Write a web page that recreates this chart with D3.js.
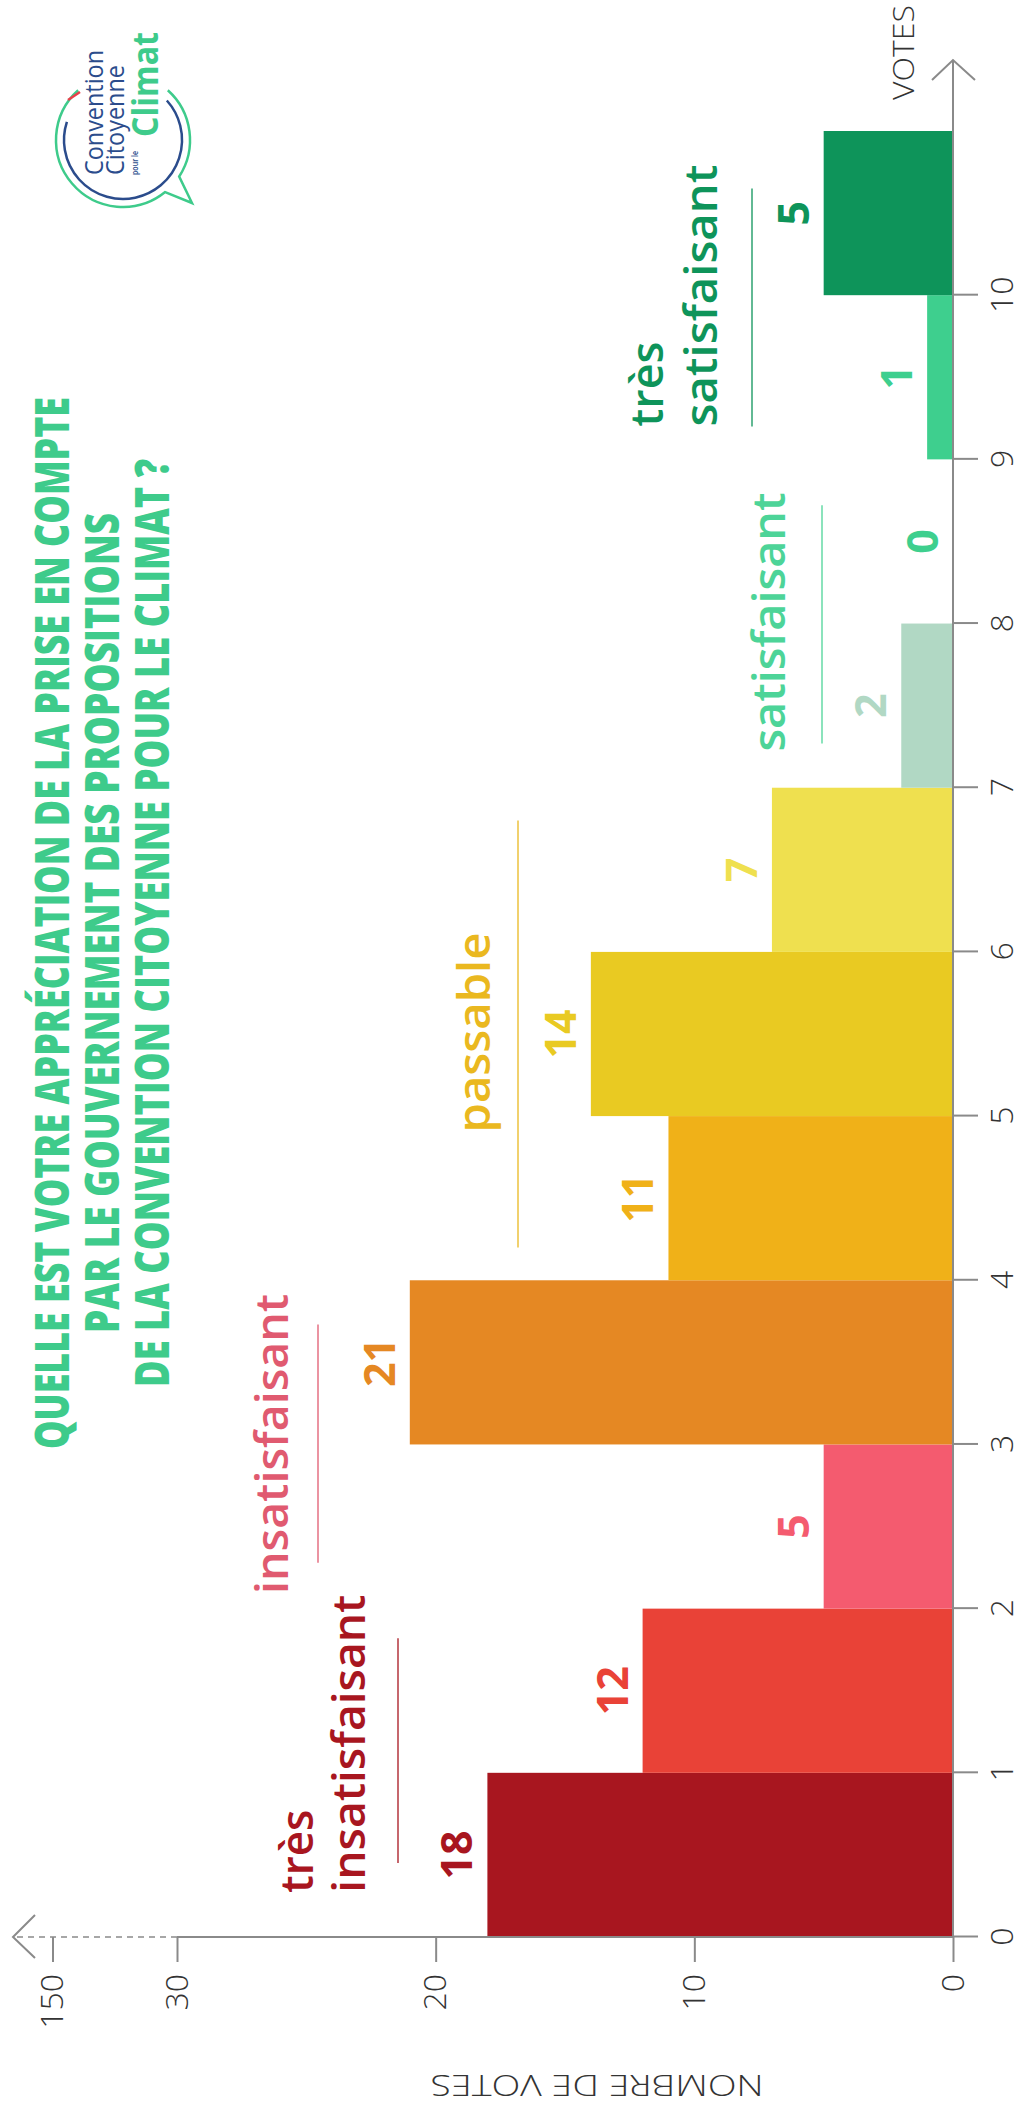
<!DOCTYPE html>
<html>
<head>
<meta charset="utf-8">
<script src="https://cdn.jsdelivr.net/npm/d3@7"></script>
<style>
	body { margin: 0; background: #fff; }
	svg { display: block; }
</style>
</head>
<body>
<div id="chart"></div>
<script>
var scores = [0, 1, 2, 3, 4, 5, 6, 7, 8, 9, 10];
var votes = [18, 12, 5, 21, 11, 14, 7, 2, 0, 1, 5];
var barColors = ["#a8161f", "#e94237", "#f45b6f", "#e58823", "#f0b118", "#e9ca22", "#efe04f", "#b1d8c4", "#3ecf8e", "#3ecf8e", "#0e945a"];
var countTicks = [0, 10, 20, 30];
var breakTick = "150";
var groupNames = [["très", "insatisfaisant"], ["insatisfaisant"], ["passable"], ["satisfaisant"], ["très", "satisfaisant"]];
var groupColors = ["#a8161f", "#e05a70", "#eab820", "#4dd498", "#0e945a"];
var titleLines = [
	"QUELLE EST VOTRE APPRÉCIATION DE LA PRISE EN COMPTE",
	"PAR LE GOUVERNEMENT DES PROPOSITIONS",
	"DE LA CONVENTION CITOYENNE POUR LE CLIMAT ?"
];

var W = 1021, H = 2110;
var green = "#3ecb8b", blue = "#2b4c8c", axisGrey = "#8a8a8a";

// layout of the group labels, in score units along the votes axis
var groupLayout = [
	{ start: 0.27, base: [313, 365], len: [83, 298], line: 398, from: 0.45, to: 1.82 },
	{ start: 2.09, base: [288], len: [300], line: 318, from: 2.28, to: 3.73 },
	{ start: 4.9, base: [490], len: [200], line: 518, from: 4.2, to: 6.8 },
	{ start: 7.22, base: [785], len: [259], line: 822, from: 7.27, to: 8.72 },
	{ start: 9.2, base: [663, 717], len: [85, 262], line: 752, from: 9.2, to: 10.65 }
];

var svg = d3.select("#chart").append("svg")
	.attr("width", W)
	.attr("height", H);

// the chart is laid out landscape, then turned a quarter turn
var g = svg.append("g")
	.attr("transform", "translate(0," + H + ") rotate(-90)");

var x = d3.scaleLinear().domain([0, 11]).range([173, 1979]);
var y = d3.scaleLinear().domain([0, 30]).range([953, 177]);

// bars
g.selectAll("rect.bar").data(votes)
	.enter().append("rect")
	.attr("class", "bar")
	.attr("x", function(d, i) { return x(scores[i]); })
	.attr("width", function(d, i) { return x(scores[i] + 1) - x(scores[i]); })
	.attr("y", function(d) { return y(d); })
	.attr("height", function(d) { return y(0) - y(d); })
	.attr("fill", function(d, i) { return barColors[i]; });

// value labels
g.selectAll("text.val").data(votes)
	.enter().append("text")
	.attr("class", "val")
	.attr("x", function(d, i) { return x(scores[i] + 0.5); })
	.attr("y", function(d) { return y(d) - 15; })
	.attr("text-anchor", "middle")
	.attr("font-family", "'Open Sans', sans-serif")
	.attr("font-weight", 700)
	.attr("font-size", 43)
	.attr("fill", function(d, i) { return barColors[i]; })
	.text(function(d) { return d; });

// votes axis
var xAxis = g.append("g")
	.attr("transform", "translate(0," + y(0) + ")")
	.call(d3.axisBottom(x).tickValues(scores).tickSize(25).tickPadding(12));
xAxis.select(".domain").remove();
xAxis.selectAll("line").attr("stroke", axisGrey).attr("stroke-width", 2);
xAxis.selectAll("text")
	.attr("font-family", "'Open Sans', sans-serif")
	.attr("font-weight", 300)
	.attr("font-size", 32)
	.attr("fill", "#333");

g.append("line")
	.attr("x1", x(0)).attr("x2", 2050)
	.attr("y1", y(0)).attr("y2", y(0))
	.attr("stroke", axisGrey).attr("stroke-width", 2);
g.append("path")
	.attr("d", "M2030," + (y(0) - 21) + "L2050," + y(0) + "L2030," + (y(0) + 22))
	.attr("fill", "none").attr("stroke", axisGrey).attr("stroke-width", 2);
g.append("text")
	.attr("x", 2010).attr("y", 914)
	.attr("font-family", "'Open Sans', sans-serif")
	.attr("font-weight", 300)
	.attr("font-size", 29)
	.attr("textLength", 95)
	.attr("lengthAdjust", "spacingAndGlyphs")
	.attr("fill", "#333")
	.text("VOTES");

// count axis
var yAxis = g.append("g")
	.attr("transform", "translate(" + x(0) + ",0)")
	.call(d3.axisLeft(y).tickValues(countTicks).tickSize(25).tickPadding(12));
yAxis.select(".domain").remove();
yAxis.selectAll("line").attr("stroke", axisGrey).attr("stroke-width", 2);
yAxis.selectAll("text")
	.attr("font-family", "'Open Sans', sans-serif")
	.attr("font-weight", 300)
	.attr("font-size", 32)
	.attr("fill", "#333");

g.append("line")
	.attr("x1", x(0)).attr("x2", x(0))
	.attr("y1", y(0)).attr("y2", y(30))
	.attr("stroke", axisGrey).attr("stroke-width", 2);
g.append("line")
	.attr("x1", x(0)).attr("x2", x(0))
	.attr("y1", y(30)).attr("y2", 13)
	.attr("stroke", axisGrey).attr("stroke-width", 1.5)
	.attr("stroke-dasharray", "6,5");
g.append("path")
	.attr("d", "M" + (x(0) + 22) + ",35L" + x(0) + ",13L" + (x(0) - 21) + ",35")
	.attr("fill", "none").attr("stroke", axisGrey).attr("stroke-width", 2);
g.append("line")
	.attr("x1", x(0)).attr("x2", x(0) - 25)
	.attr("y1", 53).attr("y2", 53)
	.attr("stroke", axisGrey).attr("stroke-width", 2);
g.append("text")
	.attr("x", x(0) - 37).attr("y", 53).attr("dy", "0.32em")
	.attr("text-anchor", "end")
	.attr("font-family", "'Open Sans', sans-serif")
	.attr("font-weight", 300)
	.attr("font-size", 32)
	.attr("fill", "#333")
	.text(breakTick);

g.append("text")
	.attr("transform", "translate(35,597) rotate(-90)")
	.attr("text-anchor", "middle")
	.attr("font-family", "'Open Sans', sans-serif")
	.attr("font-weight", 300)
	.attr("font-size", 30)
	.attr("textLength", 333)
	.attr("lengthAdjust", "spacingAndGlyphs")
	.attr("fill", "#333")
	.text("NOMBRE DE VOTES");

// group labels with their rules
groupNames.forEach(function(lines, gi) {
	var lay = groupLayout[gi];
	lines.forEach(function(t, li) {
		g.append("text")
			.attr("x", x(lay.start)).attr("y", lay.base[li])
			.attr("font-family", "'Open Sans', sans-serif")
			.attr("font-weight", 600)
			.attr("font-size", 45)
			.attr("textLength", lay.len[li])
			.attr("lengthAdjust", "spacingAndGlyphs")
			.attr("fill", groupColors[gi])
			.text(t);
	});
	g.append("line")
		.attr("x1", x(lay.from)).attr("x2", x(lay.to))
		.attr("y1", lay.line).attr("y2", lay.line)
		.attr("stroke", groupColors[gi])
		.attr("stroke-opacity", 0.65)
		.attr("stroke-width", 2);
});

// title
var titleLen = [1052, 820, 928];
var titleBase = [69, 119, 169];
titleLines.forEach(function(t, i) {
	g.append("text")
		.attr("x", 1187).attr("y", titleBase[i])
		.attr("text-anchor", "middle")
		.attr("font-family", "'Open Sans', sans-serif")
		.attr("font-weight", 800)
		.attr("font-size", 48)
		.attr("textLength", titleLen[i])
		.attr("lengthAdjust", "spacingAndGlyphs")
		.attr("fill", green)
		.text(t);
});

// logo
var logo = g.append("g").attr("transform", "translate(1970,123)");
var rad = Math.PI / 180;
var gp = d3.path();
gp.arc(0, 0, 67, (132 - 90) * rad, (213 - 90) * rad);
gp.lineTo(-63, 69);
gp.lineTo(67 * Math.sin(231 * rad), -67 * Math.cos(231 * rad));
gp.arc(0, 0, 67, (231 - 90) * rad, (408 - 90) * rad);
logo.append("path").attr("d", gp.toString())
	.attr("fill", "none").attr("stroke", green).attr("stroke-width", 2.5);
var bp = d3.path();
bp.arc(0, 0, 59, (138 - 90) * rad, (378 - 90) * rad);
logo.append("path").attr("d", bp.toString())
	.attr("fill", "none").attr("stroke", blue).attr("stroke-width", 2.5);
logo.append("line")
	.attr("x1", 40).attr("y1", -55).attr("x2", 48).attr("y2", -43)
	.attr("stroke", "#e8404a").attr("stroke-width", 2.5);
var logoText = [
	{ t: "Convention", x: -35, y: -20, s: 25, w: 400, len: 125, c: blue },
	{ t: "Citoyenne", x: -35, y: 1, s: 25, w: 400, len: 110, c: blue },
	{ t: "pour le", x: -35, y: 15, s: 8, w: 600, len: 24, c: blue },
	{ t: "Climat", x: 3, y: 35, s: 36, w: 700, len: 105, c: green }
];
logo.selectAll("text").data(logoText)
	.enter().append("text")
	.attr("x", function(d) { return d.x; })
	.attr("y", function(d) { return d.y; })
	.attr("font-family", "'Open Sans', sans-serif")
	.attr("font-size", function(d) { return d.s; })
	.attr("font-weight", function(d) { return d.w; })
	.attr("textLength", function(d) { return d.len; })
	.attr("lengthAdjust", "spacingAndGlyphs")
	.attr("fill", function(d) { return d.c; })
	.text(function(d) { return d.t; });
</script>
</body>
</html>
